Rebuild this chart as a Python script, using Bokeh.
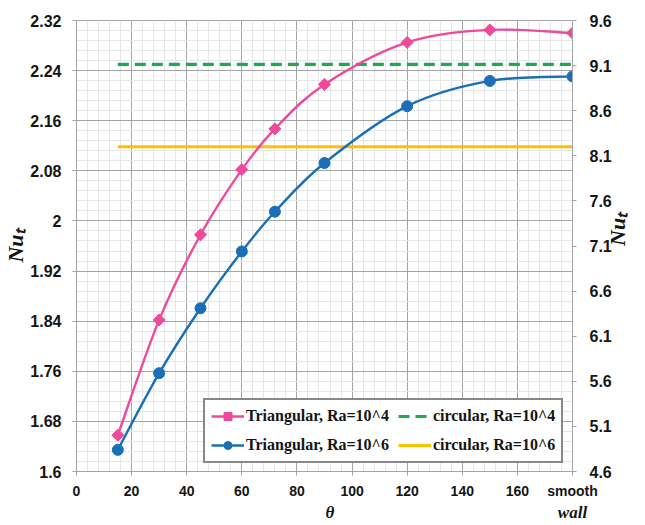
import numpy as np
from bokeh.plotting import figure
from bokeh.models import (Range1d, LinearAxis, FixedTicker, NumeralTickFormatter,
                          Legend, LegendItem, Title)
from bokeh.embed import file_html
from bokeh.resources import INLINE

# ---------------- data ----------------
theta = [15, 30, 45, 60, 72, 90, 120, 150, 180]          # 180 = "smooth wall"
tri_ra4 = [1.658, 1.842, 1.978, 2.082, 2.147, 2.218, 2.285, 2.305, 2.300]   # left axis
tri_ra6 = [4.84, 5.69, 6.41, 7.04, 7.48, 8.02, 8.65, 8.93, 8.98]            # right axis
circ_ra4 = [2.25, 2.25, 2.25, 2.25, 2.25, 2.25, 2.25, 2.25, 2.25]           # left axis
circ_ra6 = [8.2, 8.2, 8.2, 8.2, 8.2, 8.2, 8.2, 8.2, 8.2]                    # right axis

x_ticks = [0, 20, 40, 60, 80, 100, 120, 140, 160, 180]
x_tick_labels = ["0", "20", "40", "60", "80", "100", "120", "140", "160", "smooth"]
x_title_pos = 92
x_second_line = {92: "θ", 180: "wall"}
left_ticks = [1.6, 1.68, 1.76, 1.84, 1.92, 2.0, 2.08, 2.16, 2.24, 2.32]
right_ticks = [4.6, 5.1, 5.6, 6.1, 6.6, 7.1, 7.6, 8.1, 8.6, 9.1, 9.6]

labels = ["Triangular, Ra=10^4", "Triangular, Ra=10^6",
          "circular, Ra=10^4", "circular, Ra=10^6"]
y_title = "Nuₜ"

PINK = "#ee4a9b"
BLUE = "#1a6fb6"
GREEN = "#1faa4b"
GOLD = "#ffc000"
GRID = "#a4a4a4"
MINOR = "#e6e6e6"
TXT = "#151515"


def smooth_segments(xs, ys):
    """Catmull-Rom -> cubic Bezier control points (Excel-like smoothed line)."""
    x = np.asarray(xs, float)
    y = np.asarray(ys, float)
    xp = np.concatenate([[x[0]], x, [x[-1]]])
    yp = np.concatenate([[y[0]], y, [y[-1]]])
    n = len(x)
    cx0 = x[:-1] + (xp[2:n + 1] - xp[0:n - 1]) / 6.0
    cy0 = y[:-1] + (yp[2:n + 1] - yp[0:n - 1]) / 6.0
    cx1 = x[1:] - (xp[3:n + 2] - xp[1:n]) / 6.0
    cy1 = y[1:] - (yp[3:n + 2] - yp[1:n]) / 6.0
    return dict(x0=x[:-1], y0=y[:-1], x1=x[1:], y1=y[1:],
                cx0=cx0, cy0=cy0, cx1=cx1, cy1=cy1)


p = figure(width=645, height=524,
           x_range=Range1d(0, 180), y_range=Range1d(1.6, 2.32),
           output_backend="svg", toolbar_location=None,
           min_border_left=72, min_border_right=70,
           min_border_top=20, min_border_bottom=48)
p.extra_y_ranges = {"right": Range1d(4.6, 9.6)}
p.background_fill_color = "white"
p.border_fill_color = "white"
p.outline_line_color = GRID
p.outline_line_width = 1

# ticks / grids
x_minor = list(np.round(np.arange(0, 181, 4), 4))
y_minor = list(np.round(np.arange(1.6, 2.3201, 0.016), 4))
xt = FixedTicker(ticks=x_ticks, minor_ticks=x_minor)
yt = FixedTicker(ticks=left_ticks, minor_ticks=y_minor)
p.xaxis.ticker = xt
p.yaxis.ticker = yt
p.xgrid.ticker = xt
p.ygrid.ticker = yt
for g in (p.xgrid, p.ygrid):
    g.grid_line_color = GRID
    g.grid_line_width = 1
    g.minor_grid_line_color = MINOR
    g.minor_grid_line_width = 1
    g.level = "underlay"

p.yaxis.formatter = NumeralTickFormatter(format="0.[00]")
p.xaxis.major_label_overrides = {t: s for t, s in zip(x_ticks, x_tick_labels)}

right_axis = LinearAxis(y_range_name="right",
                        ticker=FixedTicker(ticks=right_ticks),
                        formatter=NumeralTickFormatter(format="0.0"))
p.add_layout(right_axis, "right")

for ax in (p.xaxis[0], p.yaxis[0], right_axis):
    ax.axis_line_color = GRID
    ax.axis_line_width = 1
    ax.major_tick_line_color = GRID
    ax.major_tick_in = 0
    ax.major_tick_out = 4
    ax.minor_tick_line_color = None
    ax.major_label_text_font = "Liberation Sans"
    ax.major_label_text_font_style = "bold"
    ax.major_label_text_color = TXT

p.yaxis[0].major_label_text_font_size = "16px"
p.yaxis[0].major_label_standoff = 11
right_axis.major_label_text_font_size = "16px"
right_axis.major_label_standoff = 13
p.xaxis[0].major_label_text_font_size = "14px"
p.xaxis[0].major_label_standoff = 7

# right axis title, reading bottom-to-top like the left one
right_axis.axis_label = y_title
right_axis.axis_label_standoff = 3
right_axis.axis_label_text_font = "Liberation Serif"
right_axis.axis_label_text_font_style = "bold italic"
right_axis.axis_label_text_font_size = "22px"
right_axis.axis_label_text_color = TXT
try:
    right_axis.axis_label_orientation = np.pi / 2
except Exception:
    pass

# second line under the x axis: axis title and "wall"
x2 = LinearAxis(ticker=FixedTicker(ticks=[x_title_pos, 180]),
                major_label_overrides=x_second_line)
x2.axis_line_color = None
x2.major_tick_line_color = None
x2.minor_tick_line_color = None
x2.major_tick_in = 0
x2.major_tick_out = 0
x2.major_label_standoff = 1
x2.major_label_text_font = "Liberation Serif"
x2.major_label_text_font_style = "bold italic"
x2.major_label_text_font_size = "17px"
x2.major_label_text_color = TXT
p.add_layout(x2, "below")

# left y title
p.add_layout(Title(text=y_title, align="center", standoff=0, offset=10,
                   text_font="Liberation Serif", text_font_style="bold italic",
                   text_font_size="22px", text_color=TXT), "left")

# ---------------- glyphs ----------------
seg4 = smooth_segments(theta, tri_ra4)
seg6 = smooth_segments(theta, tri_ra6)

r_c4 = p.line(theta, circ_ra4, line_color=GREEN, line_width=3.2, line_dash="11 6")
r_c6 = p.line(theta, circ_ra6, line_color=GOLD, line_width=3, y_range_name="right")

r_b4 = p.bezier(line_color=PINK, line_width=2.4, **seg4)
r_b6 = p.bezier(line_color=BLUE, line_width=2.4, y_range_name="right", **seg6)

r_m4 = p.scatter(theta, tri_ra4, marker="square", size=8.5,
                 angle=45, angle_units="deg",
                 fill_color=PINK, line_color=PINK)
r_m6 = p.scatter(theta, tri_ra6, marker="circle", size=11,
                 fill_color=BLUE, line_color=BLUE, y_range_name="right")

legend = Legend(items=[
    LegendItem(label=labels[0], renderers=[r_b4, r_m4]),
    LegendItem(label=labels[1], renderers=[r_b6, r_m6]),
    LegendItem(label=labels[2], renderers=[r_c4]),
    LegendItem(label=labels[3], renderers=[r_c6]),
], location=(127, 8), orientation="vertical", ncols=2,
    label_text_font="Liberation Serif", label_text_font_style="bold",
    label_text_font_size="16px", label_text_color=TXT)
legend.border_line_color = "#111111"
legend.border_line_width = 2
legend.background_fill_color = "white"
legend.background_fill_alpha = 1
legend.glyph_width = 33
legend.glyph_height = 20
legend.label_height = 20
legend.label_standoff = 2
legend.spacing = 9
legend.padding = 6
legend.margin = 0
p.add_layout(legend)

open("out.html", "w").write(file_html(p, INLINE))
